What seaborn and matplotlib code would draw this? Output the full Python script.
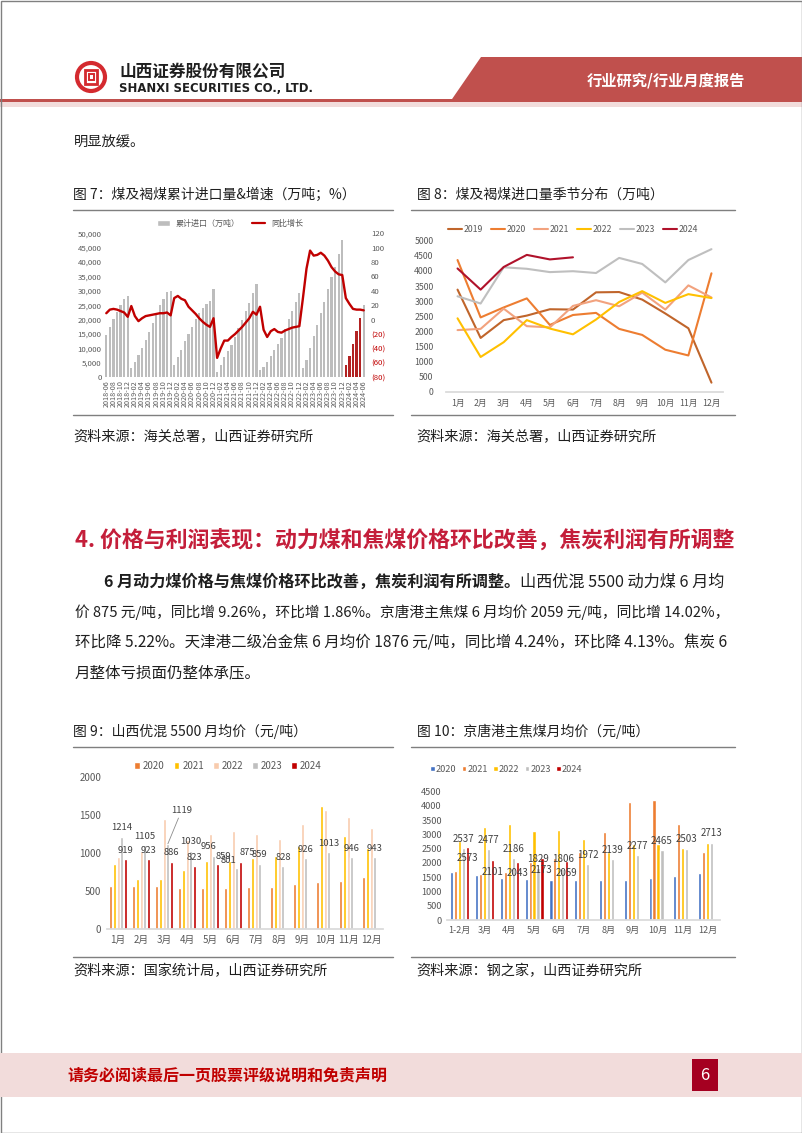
import numpy as np
import pandas as pd
import seaborn as sns
import matplotlib.pyplot as plt
from matplotlib.patches import Rectangle, Polygon, Circle, Patch
from matplotlib.lines import Line2D
from matplotlib.ticker import FuncFormatter

sns.set_theme(style="white")
plt.rcParams['font.family'] = ['Noto Sans CJK SC', 'DejaVu Sans']
plt.rcParams['axes.unicode_minus'] = False

# ==========================================
# 1. DATA
# ==========================================
# Fig 7: cumulative coal & lignite imports (10k t), 2018-06 .. 2024-06
imp_2018 = [14700, 17400, 20200, 22500, 25100, 27200, 28100]
imp_2019 = [3300, 5400, 7600, 10100, 12900, 15800, 18900, 21700, 25000, 27200, 29700, 30000]
imp_2020 = [4300, 6900, 9600, 12700, 14900, 17500, 20100, 22200, 24100, 25400, 26600, 30500]
imp_2021 = [2000, 4100, 6900, 9100, 11200, 14000, 17000, 19900, 23100, 25800, 29300, 32400]
imp_2022 = [2400, 3500, 5200, 7500, 9600, 11500, 13800, 16800, 20100, 23000, 26200, 29300]
imp_2023 = [3100, 6000, 10200, 14300, 18300, 22300, 26200, 30600, 34900, 38400, 42800, 47500]
imp_2024 = [4100, 7500, 11600, 16100, 20500, 25000]
# YoY growth of the cumulative figure (%)
yoy_2018 = [9, 14, 15, 14, 12, 10, 4]
yoy_2019 = [19, 5, -2, 2, 5, 6, 7, 8, 9, 9, 10, 6]
yoy_2020 = [30, 33, 29, 27, 18, 13, 8, 2, -3, -7, -10, 2]
yoy_2021 = [-53, -40, -29, -29, -24, -20, -15, -10, -4, 2, 11, 7]
yoy_2022 = [18, -14, -24, -16, -13, -17, -18, -15, -13, -11, -10, -9]
yoy_2023 = [30, 71, 96, 89, 90, 93, 89, 82, 73, 67, 63, 62]
yoy_2024 = [30, 22, 15, 14, 14, 13]
months7 = list(pd.period_range('2018-06', '2024-06', freq='M').strftime('%Y-%m'))

# Fig 8: monthly imports by year (10k t)
months12 = ['1月', '2月', '3月', '4月', '5月', '6月', '7月', '8月', '9月', '10月', '11月', '12月']
s8_2019 = [3380, 1780, 2370, 2520, 2730, 2720, 3290, 3300, 3050, 2590, 2100, 300]
s8_2020 = [4360, 2460, 2790, 3090, 2210, 2540, 2610, 2080, 1880, 1390, 1200, 3920]
s8_2021 = [2040, 2080, 2750, 2170, 2130, 2840, 3030, 2830, 3280, 2720, 3520, 3120]
s8_2022 = [2430, 1150, 1640, 2370, 2090, 1900, 2390, 2970, 3330, 2940, 3230, 3100]
s8_2023 = [3160, 2920, 4120, 4070, 3960, 3990, 3930, 4430, 4230, 3620, 4360, 4720]
s8_2024 = [4080, 3380, 4130, 4530, 4380, 4450]

# Fig 9: Shanxi 5500 thermal coal monthly avg price (yuan/t)
p9_2020 = [569, 569, 569, 543, 534, 538, 556, 556, 591, 617, 626, 678]
p9_2021 = [853, 661, 656, 770, 888, 893, 928, 958, 1090, 1619, 1221, 1059]
p9_2022 = [950, 1030, 1440, 1170, 1250, 1288, 1243, 1177, 1383, 1562, 1466, 1330]
p9_2023 = [1214, 1105, 1119, 1030, 956, 801, 859, 828, 926, 1013, 946, 943]
p9_2024 = [919, 923, 886, 823, 859, 875]

# Fig 10: Jingtang port main coking coal monthly avg price (yuan/t)
months11 = ['1-2月', '3月', '4月', '5月', '6月', '7月', '8月', '9月', '10月', '11月', '12月']
p10_2020 = [1671, 1578, 1473, 1426, 1403, 1403, 1403, 1403, 1473, 1543, 1636]
p10_2021 = [1730, 1613, 1671, 2022, 2162, 2396, 3074, 4149, 4208, 3366, 2373]
p10_2022 = [2782, 3273, 3378, 3121, 3156, 2828, 2396, 2650, 2665, 2536, 2688]
p10_2023 = [2537, 2477, 2186, 1829, 1806, 1972, 2139, 2277, 2465, 2503, 2713]
p10_2024 = [2573, 2101, 2043, 2173, 2059]

# ==========================================
# 2. PAGE
# ==========================================
W, H = 802, 1133
fig = plt.figure(figsize=(W / 100, H / 100), dpi=100)
page = fig.add_axes([0, 0, 1, 1])
page.set_xlim(0, W)
page.set_ylim(H, 0)
page.axis('off')
renderer = fig.canvas.get_renderer()

RED = '#C0504D'
TXT = '#1F1F1F'
TICK = '#595959'


def box(x0, y0, x1, y1):
    return [x0 / W, 1 - y1 / H, (x1 - x0) / W, (y1 - y0) / H]


def fit(parts, x0, x1, y, size, color=TXT):
    # draw a line made of (text, weight) parts and scale it to span x0..x1
    arts = []
    for s, wt in parts:
        arts.append(page.text(0, y, s, fontsize=size, fontweight=wt, va='center', color=color))
    total = sum(a.get_window_extent(renderer).width for a in arts)
    k = (x1 - x0) / total
    x = x0
    for a in arts:
        a.set_fontsize(size * k)
        a.set_x(x)
        x += a.get_window_extent(renderer).width
    return size * k


# header
page.add_patch(Polygon([(481, 57), (W, 57), (W, 101.5), (450, 101.5)], closed=True, color=RED, lw=0))
page.add_patch(Rectangle((0, 98.5), W, 3.2, color=RED, lw=0))
page.add_patch(Rectangle((0, 101.7), W, 5.5, color='#F2DCDB', lw=0))
page.add_patch(Circle((91, 77), 14, fill=False, ec='#D42A2F', lw=3))
page.add_patch(Rectangle((85, 70), 12, 14, fill=False, ec='#D42A2F', lw=2))
page.add_patch(Rectangle((88.5, 74), 5, 6, fill=False, ec='#D42A2F', lw=1.4))
page.text(119, 72, '山西证券股份有限公司', fontsize=12, fontweight='bold', va='center', color=TXT)
page.text(119, 88.5, 'SHANXI SECURITIES CO., LTD.', fontsize=8.4, fontweight='bold', va='center',
          color=TXT, family=['Liberation Sans Narrow', 'DejaVu Sans'])
page.text(587, 81, '行业研究/行业月度报告', fontsize=11, fontweight='bold', va='center', color='white')
page.add_patch(Rectangle((0.5, 0.5), W - 1, H - 1, fill=False, ec='#808080', lw=1))

page.text(74, 143, '明显放缓。', fontsize=10.3, va='center', color=TXT)

# figure titles, rules and sources
for x0, x1, ytit, yrule, ysrc, title, src in [
    (73, 393, 195, 415, 436, '图 7：煤及褐煤累计进口量&增速（万吨；%）', '资料来源：海关总署，山西证券研究所'),
    (411, 735, 195, 415, 436, '图 8：煤及褐煤进口量季节分布（万吨）', '资料来源：海关总署，山西证券研究所'),
    (73, 393, 731.7, 957.3, 971, '图 9：山西优混 5500 月均价（元/吨）', '资料来源：国家统计局，山西证券研究所'),
    (411, 735, 731.7, 957.3, 971, '图 10：京唐港主焦煤月均价（元/吨）', '资料来源：钢之家，山西证券研究所'),
]:
    tx = x0 if x0 < 400 else 416.7
    page.text(tx, ytit, title, fontsize=10, va='center', color=TXT)
    page.plot([x0, x1], [ytit + 15, ytit + 15], color='#7F7F7F', lw=1)
    page.plot([x0, x1], [yrule, yrule], color='#7F7F7F', lw=1)
    page.text(tx, ysrc, src, fontsize=10.2, va='center', color=TXT)

# section heading and body text
fit([('4. 价格与利润表现：动力煤和焦煤价格环比改善，焦炭利润有所调整', 'bold')], 75, 735, 541, 15.5,
    color='#C41E3A')
fit([('6 月动力煤价格与焦煤价格环比改善，焦炭利润有所调整。', 'bold'),
     ('山西优混 5500 动力煤 6 月均', 'normal')], 104, 727, 582, 10.8)
fit([('价 875 元/吨，同比增 9.26%，环比增 1.86%。京唐港主焦煤 6 月均价 2059 元/吨，同比增 14.02%，', 'normal')],
    75, 730, 612, 10.8)
s3 = fit([('环比降 5.22%。天津港二级冶金焦 6 月均价 1876 元/吨，同比增 4.24%，环比降 4.13%。焦炭 6', 'normal')],
         75, 727, 643, 10.8)
page.text(75, 673, '月整体亏损面仍整体承压。', fontsize=s3, va='center', color=TXT)

# footer
page.add_patch(Rectangle((0, 1053), W, 44, color='#F2DCDB', lw=0))
page.text(67, 1075, '请务必阅读最后一页股票评级说明和免责声明', fontsize=11.5, fontweight='bold',
          va='center', color='#C00000')
page.add_patch(Rectangle((692, 1059), 26, 32, color='#A50021', lw=0))
page.text(705, 1075, '6', fontsize=12, va='center', ha='center', color='white')


def clean(ax, bottom=True):
    for side in ['top', 'right', 'left']:
        ax.spines[side].set_visible(False)
    ax.spines['bottom'].set_visible(bottom)
    ax.spines['bottom'].set_color('#D9D9D9')
    ax.set_xlabel('')
    ax.set_ylabel('')
    ax.tick_params(length=0, colors=TICK)
    ax.grid(False)
    ax.set_facecolor('none')


# ==========================================
# 3. FIG 7 - bars + yoy line
# ==========================================
imports = imp_2018 + imp_2019 + imp_2020 + imp_2021 + imp_2022 + imp_2023 + imp_2024
yoy = yoy_2018 + yoy_2019 + yoy_2020 + yoy_2021 + yoy_2022 + yoy_2023 + yoy_2024
pos = np.arange(len(months7))
bar_colors = ['#B22222' if m.startswith('2024') and m != '2024-06' else '#BDBDBD' for m in months7]

ax7 = fig.add_axes(box(104.5, 233.3, 365.5, 377.3))
sns.barplot(x=pos, y=imports, color='#BDBDBD', width=0.62, saturation=1, ax=ax7)
for p, c in zip(ax7.patches, bar_colors):
    p.set_facecolor(c)
    p.set_edgecolor('none')
clean(ax7, bottom=False)
ax7.set_ylim(0, 50000)
ax7.set_yticks(np.arange(0, 50001, 5000))
ax7.yaxis.set_major_formatter(FuncFormatter(lambda v, _: f'{v:,.0f}'))
ax7.set_xticks(pos[::2])
ax7.set_xticklabels(months7[::2], rotation=90, fontsize=5.2)
ax7.tick_params(axis='y', labelsize=5.6, pad=2)
ax7.tick_params(axis='x', pad=2)

ax7r = ax7.twinx()
sns.lineplot(x=pos, y=yoy, color='#C00000', lw=1.7, ax=ax7r)
clean(ax7r, bottom=False)
ax7r.set_ylim(-80, 120)
rticks = np.arange(-80, 121, 20)
ax7r.set_yticks(rticks)
ax7r.set_yticklabels([f'({-t})' if t < 0 else f'{t}' for t in rticks])
ax7r.tick_params(axis='y', labelsize=5.6, pad=4)
for t, lab in zip(rticks, ax7r.get_yticklabels()):
    if t < 0:
        lab.set_color('#C00000')
ax7.set_xlim(-0.5, len(pos) - 0.5)
ax7.legend(handles=[Patch(facecolor='#BDBDBD'), Line2D([], [], color='#C00000', lw=1.6)],
           labels=['累计进口（万吨）', '同比增长'], loc='center', ncol=2, frameon=False,
           fontsize=5.8, handlelength=1.6, handleheight=0.6, columnspacing=1.5,
           bbox_to_anchor=(230 / W, 1 - 223.3 / H), bbox_transform=fig.transFigure,
           labelcolor=TICK)

# ==========================================
# 4. FIG 8 - seasonal lines
# ==========================================
years8 = ['2019', '2020', '2021', '2022', '2023', '2024']
pal8 = {'2019': '#C0652B', '2020': '#ED7D31', '2021': '#F2A27E', '2022': '#FFC000',
        '2023': '#BFBFBF', '2024': '#B0122B'}
rows = []
for yr, vals in zip(years8, [s8_2019, s8_2020, s8_2021, s8_2022, s8_2023, s8_2024]):
    rows += [(m, yr, v) for m, v in zip(months12, vals)]
df8 = pd.DataFrame(rows, columns=['month', 'year', 'val'])

ax8 = fig.add_axes(box(446, 240.7, 723, 391.7))
sns.lineplot(data=df8, x='month', y='val', hue='year', palette=pal8, lw=1.5, sort=False,
             legend=False, ax=ax8)
clean(ax8)
ax8.set_xlim(-0.5, 11.5)
ax8.set_ylim(0, 5000)
ax8.set_yticks(np.arange(0, 5001, 500))
ax8.tick_params(labelsize=6.3)
ax8.tick_params(axis='y', pad=9)
ax8.tick_params(axis='x', pad=5)
ax8.legend(handles=[Line2D([], [], color=pal8[y], lw=1.5) for y in years8], labels=years8,
           loc='center', ncol=6, frameon=False, fontsize=6.3, handlelength=1.6,
           handletextpad=0.2, columnspacing=0.9,
           bbox_to_anchor=(573 / W, 1 - 230 / H), bbox_transform=fig.transFigure, labelcolor=TICK)

# ==========================================
# 5. FIG 9 - Shanxi 5500 price bars
# ==========================================
years5 = ['2020', '2021', '2022', '2023', '2024']
pal9 = {'2020': '#ED7D31', '2021': '#FFC000', '2022': '#F8CBAD', '2023': '#BFBFBF', '2024': '#C00000'}
rows = []
for yr, vals in zip(years5, [p9_2020, p9_2021, p9_2022, p9_2023, p9_2024]):
    rows += [(m, yr, v) for m, v in zip(months12, vals)]
df9 = pd.DataFrame(rows, columns=['month', 'year', 'val'])

ax9 = fig.add_axes(box(106.7, 776.7, 382.7, 929))
sns.barplot(data=df9, x='month', y='val', hue='year', order=months12, hue_order=years5,
            palette=pal9, width=0.8, gap=0.2, saturation=1, legend=False, ax=ax9)
clean(ax9)
ax9.set_xlim(-0.5, 11.5)
ax9.set_ylim(0, 2000)
ax9.set_yticks(np.arange(0, 2001, 500))
ax9.tick_params(labelsize=7)
ax9.tick_params(axis='y', pad=4)
ax9.tick_params(axis='x', pad=4)
c23, c24 = ax9.containers[3], ax9.containers[4]
lab23 = ax9.bar_label(c23, labels=['' if i == 2 else f'{v:.0f}' for i, v in enumerate(p9_2023)],
                      padding=3, fontsize=6.8, color='#404040')
lab24 = ax9.bar_label(c24, labels=[f'{v:.0f}' for v in p9_2024], padding=3, fontsize=6.8,
                      color='#404040')
# nudge the crowded May/June labels apart, as in the source chart
lab23[4].xyann = (-4, 4)
lab24[4].xyann = (4, 2)
lab23[5].xyann = (-6, 2)
lab24[5].xyann = (5, 4)
bar = c23[2]
bx = bar.get_x() + bar.get_width() / 2
ax9.annotate(f'{p9_2023[2]:.0f}', xy=(bx, p9_2023[2]), xytext=(bx + 0.6, 1500),
             fontsize=6.8, color='#404040', ha='center', va='bottom',
             arrowprops=dict(arrowstyle='-', color='#8C8C8C', lw=0.6, shrinkA=0, shrinkB=0))
ax9.legend(handles=[Patch(facecolor=pal9[y]) for y in years5], labels=years5, loc='center',
           ncol=5, frameon=False, fontsize=7, handlelength=0.6, handleheight=0.6,
           handletextpad=0.3, columnspacing=0.9,
           bbox_to_anchor=(228 / W, 1 - 766 / H), bbox_transform=fig.transFigure, labelcolor=TICK)

# ==========================================
# 6. FIG 10 - Jingtang coking coal price bars
# ==========================================
pal10 = {'2020': '#4472C4', '2021': '#ED7D31', '2022': '#FFC000', '2023': '#BFBFBF', '2024': '#C00000'}
rows = []
for yr, vals in zip(years5, [p10_2020, p10_2021, p10_2022, p10_2023, p10_2024]):
    rows += [(m, yr, v) for m, v in zip(months11, vals)]
df10 = pd.DataFrame(rows, columns=['month', 'year', 'val'])

ax10 = fig.add_axes(box(447.3, 791.7, 720, 920))
sns.barplot(data=df10, x='month', y='val', hue='year', order=months11, hue_order=years5,
            palette=pal10, width=0.8, gap=0.2, saturation=1, legend=False, ax=ax10)
clean(ax10)
ax10.set_xlim(-0.5, 10.5)
ax10.set_ylim(0, 4500)
ax10.set_yticks(np.arange(0, 4501, 500))
ax10.tick_params(labelsize=6.6)
ax10.tick_params(axis='y', pad=4)
ax10.tick_params(axis='x', pad=4)
ax10.bar_label(ax10.containers[3], labels=[f'{v:.0f}' for v in p10_2023], padding=3,
               fontsize=7, color='#404040')
ax10.bar_label(ax10.containers[4], labels=[f'{v:.0f}' for v in p10_2024], padding=-12,
               fontsize=7, color='#404040')
ax10.legend(handles=[Patch(facecolor=pal10[y]) for y in years5], labels=years5, loc='center left',
            ncol=5, frameon=False, fontsize=6.6, handlelength=0.5, handleheight=0.5,
            handletextpad=0.1, columnspacing=0.6,
            bbox_to_anchor=(422 / W, 1 - 769 / H), bbox_transform=fig.transFigure, labelcolor=TICK)

fig.savefig('out.png', dpi=100)
